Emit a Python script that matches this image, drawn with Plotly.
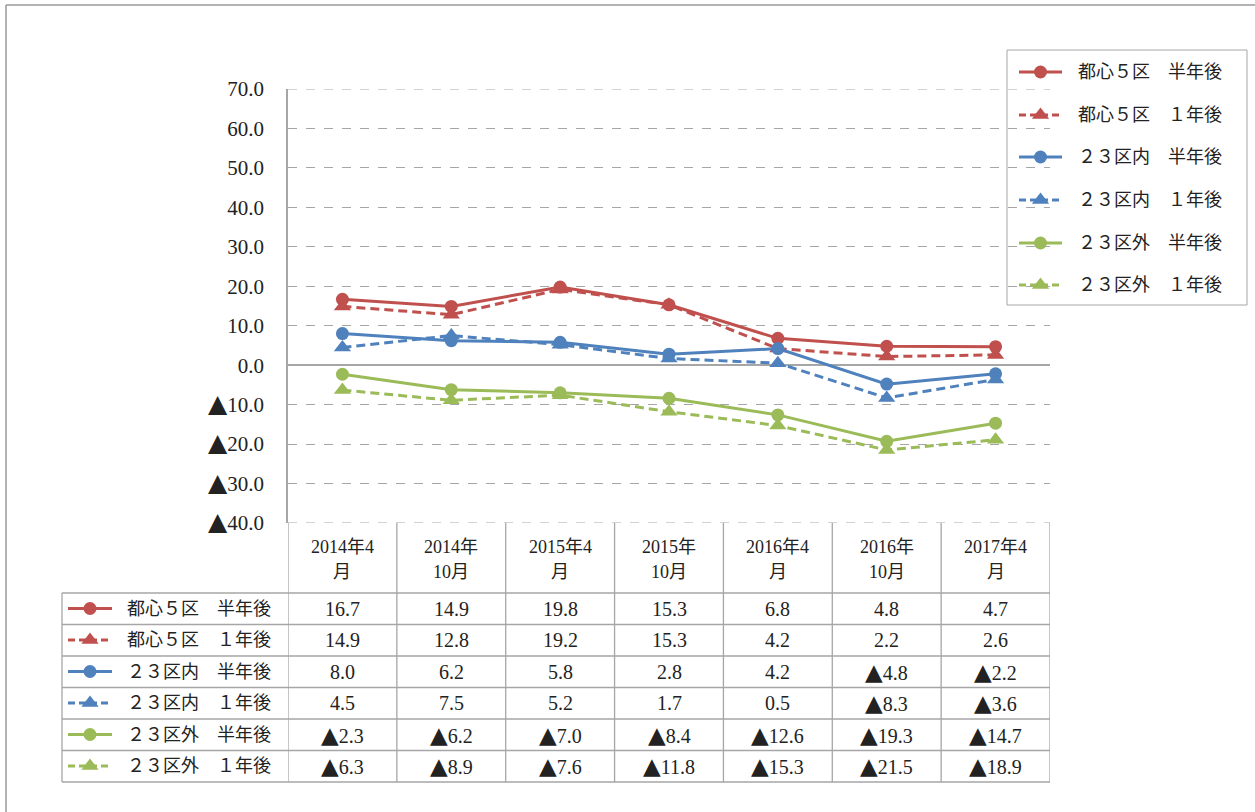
import plotly.graph_objects as go

# ---- data ----
periods = ["2014年4<br>月", "2014年<br>10月", "2015年4<br>月", "2015年<br>10月",
           "2016年4<br>月", "2016年<br>10月", "2017年4<br>月"]
series_names = ["都心５区　半年後", "都心５区　１年後", "２３区内　半年後",
                "２３区内　１年後", "２３区外　半年後", "２３区外　１年後"]
toshin5_half = [16.7, 14.9, 19.8, 15.3, 6.8, 4.8, 4.7]
toshin5_year = [14.9, 12.8, 19.2, 15.3, 4.2, 2.2, 2.6]
ku23in_half = [8.0, 6.2, 5.8, 2.8, 4.2, -4.8, -2.2]
ku23in_year = [4.5, 7.5, 5.2, 1.7, 0.5, -8.3, -3.6]
ku23out_half = [-2.3, -6.2, -7.0, -8.4, -12.6, -19.3, -14.7]
ku23out_year = [-6.3, -8.9, -7.6, -11.8, -15.3, -21.5, -18.9]
y_ticks = [70, 60, 50, 40, 30, 20, 10, 0, -10, -20, -30, -40]

series_values = [toshin5_half, toshin5_year, ku23in_half,
                 ku23in_year, ku23out_half, ku23out_year]

RED, BLUE, GREEN = "#C0504D", "#4F81BD", "#9BBB59"
colors = [RED, RED, BLUE, BLUE, GREEN, GREEN]
dashed = [False, True, False, True, False, True]
GRID = "#A6A6A6"
FONT = "Liberation Serif, Noto Sans CJK JP, serif"
TXT = "#222222"

W, H = 1255, 812


def py(pix):
    """pixel row -> paper y"""
    return 1 - pix / H


def px(pix):
    return pix / W


def fmt(v, tri_size=23):
    """Negative numbers are written with a leading ▲."""
    s = f"{abs(v):.1f}"
    if v < 0:
        return (f'<span style="font-family:DejaVu Sans;font-size:{tri_size}px">▲</span>' + s)
    return s


fig = go.Figure()

# ---- main line chart ----
idx = list(range(len(periods)))
for name, vals, col, d in zip(series_names, series_values, colors, dashed):
    fig.add_trace(go.Scatter(
        x=idx, y=vals, name=name, mode="lines+markers",
        line=dict(color=col, width=3, dash="9px,5px" if d else "solid"),
        marker=dict(symbol="triangle-up" if d else "circle", size=15 if d else 13, color=col,
                    line=dict(width=0)),
        hoverinfo="skip", showlegend=False, xaxis="x", yaxis="y"))

# ---- legend & table key samples (full-page pixel axes) ----
legend_rows = [72, 115, 157, 200, 243, 285]
table_rows = [608.5, 640, 671.5, 703, 734.5, 766]
for i, (name, col, d) in enumerate(zip(series_names, colors, dashed)):
    for (x0, x1, yy) in [(1019, 1062, legend_rows[i]), (68, 112, table_rows[i])]:
        fig.add_trace(go.Scatter(
            x=[x0, x1], y=[yy, yy], mode="lines",
            line=dict(color=col, width=3, dash="7px,4px" if d else "solid"),
            hoverinfo="skip", showlegend=False, xaxis="x2", yaxis="y2"))
        fig.add_trace(go.Scatter(
            x=[(x0 + x1) / 2], y=[yy], mode="markers",
            marker=dict(symbol="triangle-up" if d else "circle", size=15 if d else 13, color=col),
            hoverinfo="skip", showlegend=False, xaxis="x2", yaxis="y2"))

shapes = []
annotations = []

# outer frame (top and left edges)
shapes.append(dict(type="line", xref="paper", yref="paper", x0=px(6), x1=1, y0=py(5), y1=py(5),
                   line=dict(color="#999999", width=1.5)))
shapes.append(dict(type="line", xref="paper", yref="paper", x0=px(6), x1=px(6), y0=py(5), y1=0,
                   line=dict(color="#999999", width=1.5)))

# top gridline at the axis maximum
shapes.append(dict(type="line", xref="x", yref="y", x0=-0.5, x1=len(periods) - 0.5,
                   y0=max(y_ticks), y1=max(y_ticks), line=dict(color=GRID, width=1, dash="dash")))

# legend box
shapes.append(dict(type="rect", xref="paper", yref="paper", x0=px(1007), x1=px(1247),
                   y0=py(50), y1=py(305), line=dict(color=GRID, width=1)))
for i, name in enumerate(series_names):
    annotations.append(dict(text=name, xref="paper", yref="paper", x=px(1076), y=py(legend_rows[i]),
                            xanchor="left", yanchor="middle", showarrow=False,
                            font=dict(family=FONT, size=18, color=TXT)))

# ---- data table ----
row_lines = [593, 624.5, 656, 687.5, 719, 750.5, 782]
# header top (dashed, continues the bottom gridline)
shapes.append(dict(type="line", xref="x", yref="y", x0=-0.5, x1=len(periods) - 0.5,
                   y0=min(y_ticks), y1=min(y_ticks), line=dict(color=GRID, width=1, dash="dash")))
for yl in row_lines:
    shapes.append(dict(type="line", xref="paper", yref="paper", x0=px(62), x1=px(1050),
                       y0=py(yl), y1=py(yl), line=dict(color=GRID, width=1.3)))
for k in range(len(periods) + 1):
    shapes.append(dict(type="line", xref="x", yref="paper", x0=k - 0.5, x1=k - 0.5,
                       y0=py(523), y1=py(782), line=dict(color=GRID, width=1.3)))
shapes.append(dict(type="line", xref="paper", yref="paper", x0=px(62), x1=px(62),
                   y0=py(593), y1=py(782), line=dict(color=GRID, width=1.3)))

for i, p in enumerate(periods):
    top, bottom = p.split("<br>")
    for txt, yy in [(top, 547), (bottom, 572)]:
        annotations.append(dict(text=txt, xref="x", yref="paper", x=i, y=py(yy),
                                xanchor="center", yanchor="middle", showarrow=False,
                                font=dict(family=FONT, size=18, color=TXT)))

for r, (name, vals) in enumerate(zip(series_names, series_values)):
    annotations.append(dict(text=name, xref="paper", yref="paper", x=px(125), y=py(table_rows[r]),
                            xanchor="left", yanchor="middle", showarrow=False,
                            font=dict(family=FONT, size=18, color=TXT)))
    for i, v in enumerate(vals):
        annotations.append(dict(text=fmt(v), xref="x", yref="paper", x=i, y=py(table_rows[r]),
                                xanchor="center", yanchor="middle", showarrow=False,
                                font=dict(family=FONT, size=20, color=TXT)))

fig.update_layout(
    width=W, height=H,
    margin=dict(l=0, r=0, t=0, b=0, pad=0, autoexpand=False),
    paper_bgcolor="white", plot_bgcolor="rgba(0,0,0,0)",
    showlegend=False,
    xaxis=dict(domain=[px(288), px(1050)], range=[-0.5, len(periods) - 0.5],
               showgrid=False, zeroline=False, showticklabels=False, showline=False,
               fixedrange=True),
    yaxis=dict(domain=[py(523), py(89)], range=[-40, 70],
               tickvals=y_ticks, ticktext=[fmt(t, 25) for t in y_ticks],
               showgrid=True, gridcolor=GRID, gridwidth=1, griddash="dash",
               zeroline=True, zerolinecolor=GRID, zerolinewidth=1.5,
               showline=True, linecolor=GRID, linewidth=1.5,
               ticks="", ticklabelstandoff=18,
               tickfont=dict(family=FONT, size=21, color=TXT),
               fixedrange=True),
    xaxis2=dict(domain=[0, 1], range=[0, W], visible=False, anchor="y2", fixedrange=True),
    yaxis2=dict(domain=[0, 1], range=[H, 0], visible=False, anchor="x2", fixedrange=True),
    shapes=shapes, annotations=annotations,
)

fig.write_html("out.html")
